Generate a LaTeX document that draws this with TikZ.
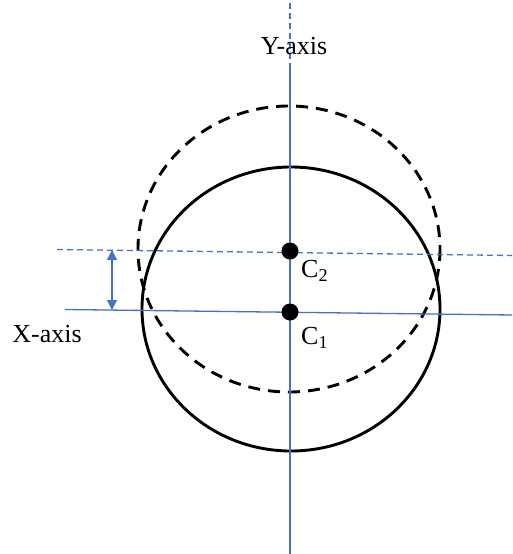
\documentclass[tikz,border=0pt]{standalone}
\usepackage{fontspec}
\setmainfont{Liberation Serif}
\usetikzlibrary{positioning, arrows.meta}
\definecolor{axisblue}{RGB}{68,114,196}

\begin{document}
\begin{tikzpicture}[
    x=1pt, y=-1pt,
    axis/.style = {draw=axisblue, line width=1.3pt},
    shifted/.style = {axis, dash pattern=on 6pt off 4pt},
    ring/.style = {draw=black, line width=2.9pt},
    dot/.style = {circle, fill=black, inner sep=0pt, minimum size=17pt},
    lbl/.style = {font=\fontsize{26}{29}\selectfont, inner sep=0pt},
    gap/.style = {{Triangle[length=10pt, width=10pt]}-{Triangle[length=10pt, width=10pt]}, draw=axisblue, fill=axisblue, line width=1.3pt}
]
    \useasboundingbox (0,0) rectangle (512,554);

    \coordinate (Ytop) at (290,3);
    \coordinate (Ymid) at (290,63);
    \coordinate (Ybot) at (290,554);
    \coordinate (Xl) at (65,309.5);
    \coordinate (Xr) at (512,315);
    \coordinate (Dl) at (57,249.5);
    \coordinate (Dr) at (512,255.5);
    \coordinate (Atop) at (112,250);
    \coordinate (Abot) at (112,310);

    \draw[ring] (291,309) ellipse [x radius=149, y radius=142];
    \draw[ring, dash pattern=on 12pt off 8pt] (289,249) ellipse [x radius=151, y radius=143];

    \draw[shifted] (Ytop) -- (Ymid);
    \draw[axis] (Ymid) -- (Ybot);
    \draw[axis] (Xl) -- (Xr);
    \draw[shifted] (Dl) -- (Dr);
    \draw[gap] (Atop) -- (Abot);

    \node[dot] (C1) at (290,312) {};
    \node[dot] (C2) at (290,251) {};

    \node[lbl, anchor=north west] (C1lab) at (301,327) {C\textsubscript{1}};
    \node[lbl, anchor=north west] (C2lab) at (301,260) {C\textsubscript{2}};
    \node[lbl] (Xlab) at (47,334) {X-axis};
    \node[lbl] (Ylab) at (294,46) {Y-axis};
\end{tikzpicture}
\end{document}
